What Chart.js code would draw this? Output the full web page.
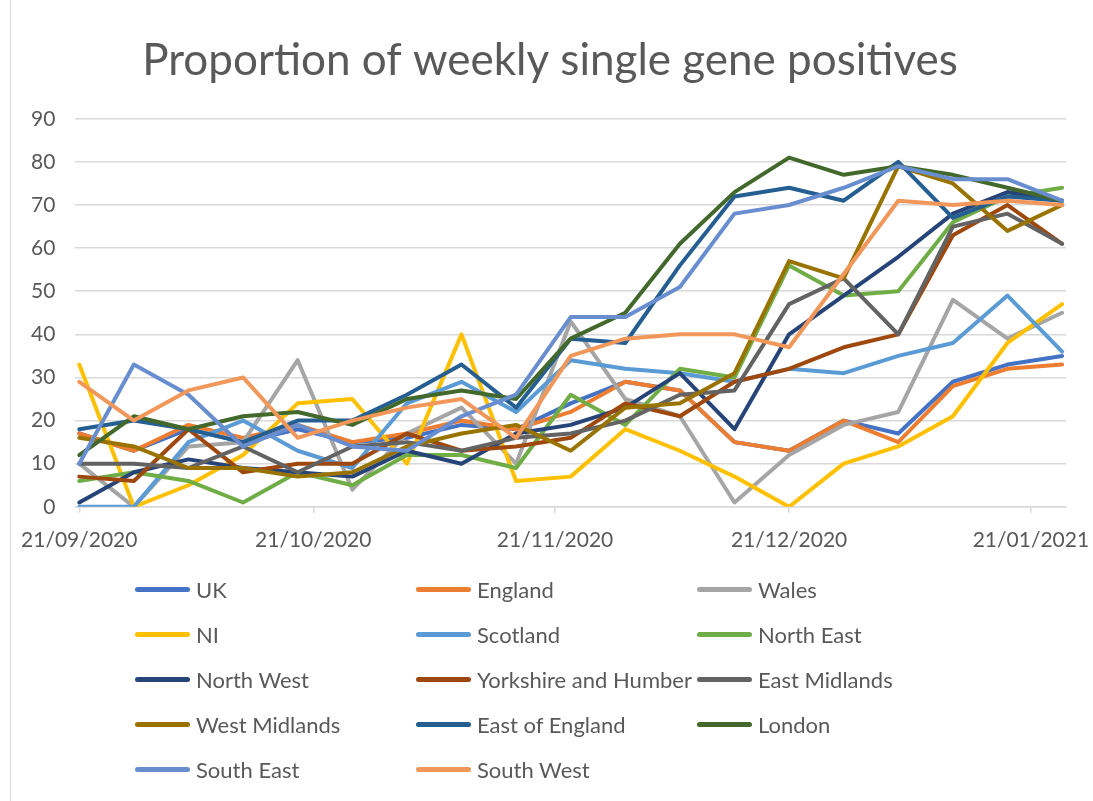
<!DOCTYPE html>
<html>
<head>
<meta charset="utf-8">
<script src="https://cdn.jsdelivr.net/npm/chart.js@4.4.1/dist/chart.umd.min.js"></script>
<style>
  body { margin: 0; background: #fff; }
  #wrap { position: relative; width: 1093px; height: 801px; overflow: hidden; background: #fff; }
  #frame { position: absolute; left: 10px; top: 0; width: 1px; height: 801px; background: #d9d9d9; }
  #chart { position: absolute; left: 0; top: 0; }
  #legend {
    position: absolute; left: 135px; top: 567px;
    display: grid; grid-template-columns: 281px 281px 281px; grid-auto-rows: 45px;
    font-family: Lato, "Open Sans", sans-serif; font-size: 22px; color: #595959;
  }
  .item { display: flex; align-items: center; white-space: nowrap; }
  .swatch { width: 55px; height: 5px; border-radius: 3px; margin-right: 6px; }
</style>
</head>
<body>
<div id="wrap">
  <div id="frame"></div>
  <canvas id="chart" width="1093" height="571"></canvas>
  <div id="legend"></div>
</div>
<script>
// weekly data points (week start dates)
const weekStarts = ['21/09/2020', '28/09/2020', '05/10/2020', '12/10/2020', '19/10/2020',
  '26/10/2020', '02/11/2020', '09/11/2020', '16/11/2020', '23/11/2020', '30/11/2020',
  '07/12/2020', '14/12/2020', '21/12/2020', '28/12/2020', '04/01/2021', '11/01/2021',
  '18/01/2021', '25/01/2021'];

// x axis labels
const tickDates = ['21/09/2020', '21/10/2020', '21/11/2020', '21/12/2020', '21/01/2021'];

const regions = ['UK', 'England', 'Wales', 'NI', 'Scotland', 'North East', 'North West',
  'Yorkshire and Humber', 'East Midlands', 'West Midlands', 'East of England', 'London',
  'South East', 'South West'];

const colours = ['#4472C4', '#ED7D31', '#A5A5A5', '#FFC000', '#5B9BD5', '#70AD47', '#264478',
  '#9E480E', '#636363', '#997300', '#255E91', '#43682B', '#698ED0', '#F1975A'];

// % of weekly positives that are single gene
const uk = [17, 13, 18, 15, 18, 15, 16, 19, 18, 24, 29, 27, 15, 13, 20, 17, 29, 33, 35];
const england = [17, 13, 19, 16, 19, 15, 17, 20, 18, 22, 29, 27, 15, 13, 20, 15, 28, 32, 33];
const wales = [10, 0, 14, 15, 34, 4, 17, 23, 10, 43, 25, 21, 1, 12, 19, 22, 48, 39, 45];
const ni = [33, 0, 5, 12, 24, 25, 10, 40, 6, 7, 18, 13, 7, 0, 10, 14, 21, 38, 47];
const scotland = [0, 0, 15, 20, 13, 9, 24, 29, 22, 34, 32, 31, 29, 32, 31, 35, 38, 49, 36];
const northEast = [6, 8, 6, 1, 8, 5, 12, 12, 9, 26, 19, 32, 30, 56, 49, 50, 66, 72, 74];
const northWest = [1, 8, 11, 9, 8, 7, 13, 10, 17, 19, 23, 31, 18, 40, 49, 58, 68, 73, 71];
const yorkshire = [7, 6, 18, 8, 10, 10, 17, 13, 14, 16, 24, 21, 29, 32, 37, 40, 63, 70, 61];
const eastMidlands = [10, 10, 9, 14, 8, 14, 15, 13, 16, 17, 20, 26, 27, 47, 53, 40, 65, 68, 61];
const westMidlands = [16, 14, 9, 9, 7, 8, 14, 17, 19, 13, 23, 24, 31, 57, 53, 79, 75, 64, 70];
const eastOfEngland = [18, 20, 18, 15, 20, 20, 26, 33, 23, 39, 38, 56, 72, 74, 71, 80, 67, 72, 71];
const london = [12, 21, 18, 21, 22, 19, 25, 27, 25, 39, 45, 61, 73, 81, 77, 79, 77, 74, 71];
const southEast = [10, 33, 26, 14, 19, 14, 13, 21, 26, 44, 44, 51, 68, 70, 74, 79, 76, 76, 71];
const southWest = [29, 20, 27, 30, 16, 20, 23, 25, 16, 35, 39, 40, 40, 37, 54, 71, 70, 71, 70];

const series = [uk, england, wales, ni, scotland, northEast, northWest, yorkshire,
  eastMidlands, westMidlands, eastOfEngland, london, southEast, southWest];

const textColour = '#595959';
const gridColour = '#d9d9d9';
const fontFamily = 'Lato, "Open Sans", sans-serif';

// days since the first week, so the x axis behaves like a date axis
function toDay(s) {
  const [d, m, y] = s.split('/').map(Number);
  return Math.round((Date.UTC(y, m - 1, d) - Date.UTC(2020, 8, 21)) / 86400000);
}

const datasets = regions.map((name, i) => ({
  label: name,
  data: series[i].map((v, j) => ({ x: toDay(weekStarts[j]) + 0.5, y: v })),
  borderColor: colours[i],
  backgroundColor: colours[i],
  borderWidth: 4,
  pointRadius: 0,
  borderJoinStyle: 'round',
  borderCapStyle: 'round',
  // later series drawn on top, like Excel
  order: regions.length - i
}));

const chart = new Chart('chart', {
  type: 'line',
  data: { datasets: datasets },
  options: {
    responsive: false,
    animation: false,
    layout: { padding: { left: 11, right: 4, bottom: 3 } },
    plugins: {
      legend: { display: false },
      tooltip: { enabled: false },
      title: {
        display: true,
        text: 'Proportion of weekly single gene positives',
        color: textColour,
        font: { family: fontFamily, size: 44, weight: 'normal' },
        padding: { top: 34, bottom: 32 }
      }
    },
    scales: {
      x: {
        type: 'linear',
        min: 0,
        max: 127,
        afterBuildTicks: (scale) => {
          scale.ticks = tickDates.map(t => ({ value: toDay(t) + 0.5 }));
        },
        // the last label may run past the plot edge, as in Excel
        afterFit: (scale) => {
          scale.paddingRight = 27;
        },
        ticks: {
          autoSkip: false,
          maxRotation: 0,
          color: textColour,
          font: { family: fontFamily, size: 21 },
          padding: 15,
          callback: (v, i) => tickDates[i]
        },
        grid: { drawOnChartArea: false, color: gridColour, tickLength: 6, lineWidth: 1.5 },
        border: { color: gridColour, width: 1.5 }
      },
      y: {
        min: 0,
        max: 90,
        ticks: {
          stepSize: 10,
          color: textColour,
          font: { family: fontFamily, size: 21 },
          padding: 20
        },
        grid: { color: gridColour, lineWidth: 1.5, drawTicks: false },
        border: { display: false }
      }
    }
  }
});

// legend in three columns, as in the original
const legend = document.getElementById('legend');
chart.data.datasets.forEach(ds => {
  const item = document.createElement('div');
  item.className = 'item';
  const sw = document.createElement('span');
  sw.className = 'swatch';
  sw.style.background = ds.borderColor;
  item.appendChild(sw);
  item.appendChild(document.createTextNode(ds.label));
  legend.appendChild(item);
});
</script>
</body>
</html>
